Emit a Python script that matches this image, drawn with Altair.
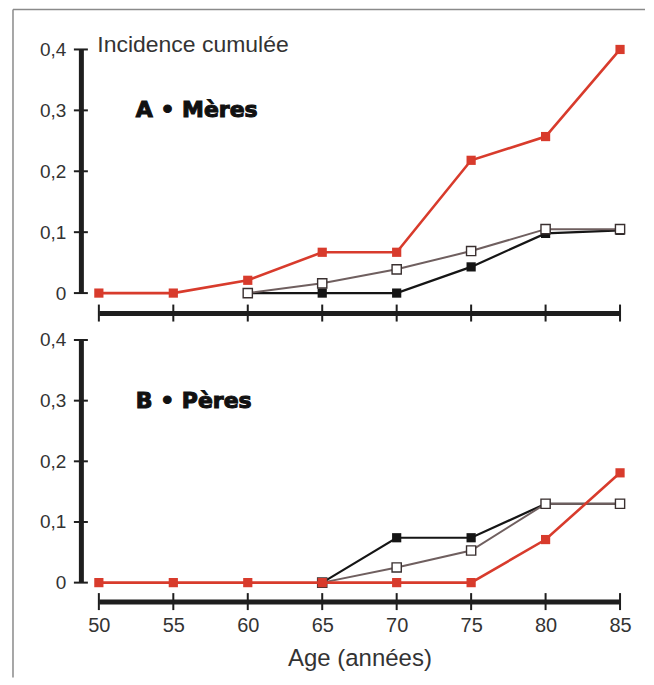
import altair as alt
import pandas as pd

# ---------------- data ----------------
ages = [50, 55, 60, 65, 70, 75, 80, 85]

# Panel A : Mères
a_rouge = [0.0, 0.0, 0.021, 0.067, 0.067, 0.218, 0.257, 0.400]
a_noir = [None, None, 0.0, 0.0, 0.0, 0.043, 0.098, 0.103]
a_blanc = [None, None, 0.0, 0.016, 0.039, 0.069, 0.105, 0.105]

# Panel B : Pères
b_rouge = [0.0, 0.0, 0.0, 0.0, 0.0, 0.0, 0.071, 0.181]
b_noir = [None, None, None, 0.0, 0.074, 0.074, 0.130, 0.130]
b_blanc = [None, None, None, 0.0, 0.025, 0.053, 0.130, 0.130]

y_ticks = [0.0, 0.1, 0.2, 0.3, 0.4]
panel_titles = ["A \u2022  M\u00e8res", "B \u2022  P\u00e8res"]
y_title = "Incidence cumul\u00e9e"
x_title = "Age (ann\u00e9es)"

RED = "#d83b2c"
BLACK = "#151515"
OPEN_LINE = "#6f5f5f"
AXIS = "#1e1e1e"
TXT = "#333333"
FONT = "Liberation Sans"

W = 522


def series_df(values):
    return pd.DataFrame(
        [{"age": a, "inc": v} for a, v in zip(ages, values) if v is not None]
    )


def build_panel(rouge, noir, blanc, label, height, first):
    label_expr = "datum.value == 0 ? '0' : replace(format(datum.value, '.1f'), '.', ',')"
    y_axis_kw = dict(
        values=y_ticks,
        labelExpr=label_expr,
        domainWidth=5,
        domainColor=AXIS,
        ticks=False,
        grid=False,
        labelFont=FONT,
        labelFontSize=19,
        labelColor=TXT,
        labelPadding=15,
        labelFlush=False,
        offset=18,
    )
    if first:
        y_axis = alt.Axis(
            title=y_title,
            titleAngle=0,
            titleAlign="left",
            titleBaseline="middle",
            titleX=16,
            titleY=-5,
            titleFont=FONT,
            titleFontSize=23,
            titleFontWeight="normal",
            titleColor=TXT,
            **y_axis_kw,
        )
        x_axis = alt.Axis(
            values=ages,
            labels=False,
            ticks=False,
            grid=False,
            domainWidth=5,
            domainColor=AXIS,
            offset=20,
            title=None,
        )
    else:
        y_axis = alt.Axis(title=None, **y_axis_kw)
        x_axis = alt.Axis(
            values=ages,
            ticks=False,
            grid=False,
            domainWidth=5,
            domainColor=AXIS,
            offset=19,
            labelFont=FONT,
            labelFontSize=20,
            labelColor=TXT,
            labelPadding=14,
            labelFlush=False,
            title=x_title,
            titleFont=FONT,
            titleFontSize=24,
            titleFontWeight="normal",
            titleColor=TXT,
            titlePadding=11,
        )

    X = alt.X("age:Q", scale=alt.Scale(domain=[50, 85], nice=False, zero=False), axis=x_axis)
    Y = alt.Y("inc:Q", scale=alt.Scale(domain=[0, 0.4], nice=False), axis=y_axis)

    layers = []
    # series: black, open, red (red on top)
    for vals, lcol, fill, stroke, lw in [
        (noir, BLACK, BLACK, BLACK, 2.2),
        (blanc, OPEN_LINE, "white", "#3a3030", 2.0),
        (rouge, RED, RED, RED, 2.6),
    ]:
        df = series_df(vals)
        base = alt.Chart(df)
        layers.append(base.mark_line(color=lcol, strokeWidth=lw).encode(x=X, y=Y))
        layers.append(
            base.mark_point(
                shape="square", size=85, filled=True, fill=fill, stroke=stroke,
                strokeWidth=1.4 if fill == "white" else 0, opacity=1,
            ).encode(x=X, y=Y)
        )

    # crossing tick marks on the y axis line
    yt = pd.DataFrame({"inc": y_ticks})
    layers.append(
        alt.Chart(yt).mark_tick(orient="horizontal", size=14, thickness=2, color=AXIS, opacity=1)
        .encode(y=Y, x=alt.value(-18))
    )
    # crossing tick marks on the x axis line
    xt = pd.DataFrame({"age": ages})
    x_off = 20 if first else 19
    layers.append(
        alt.Chart(xt).mark_tick(orient="vertical", size=17, thickness=2, color=AXIS, opacity=1)
        .encode(x=X, y=alt.value(height + x_off))
    )
    # panel label
    lab = pd.DataFrame({"t": [label]})
    layers.append(
        alt.Chart(lab).mark_text(
            align="left", baseline="middle", font="DejaVu Sans", fontWeight="bold",
            fontSize=22, color="#111111", stroke="#111111", strokeWidth=1.1,
        ).encode(text="t:N", x=alt.value(37), y=alt.value(61))
    )
    if first:
        # the thin grey frame (top and left edges only)
        layers.append(
            alt.Chart(lab).mark_rule(color="#8a8a8a", strokeWidth=1.5)
            .encode(x=alt.value(-86), x2=alt.value(547), y=alt.value(-40))
        )
        layers.append(
            alt.Chart(lab).mark_rule(color="#8a8a8a", strokeWidth=1.5)
            .encode(x=alt.value(-86), y=alt.value(-40), y2=alt.value(629))
        )
    return alt.layer(*layers).properties(width=W, height=height)


panel_a = build_panel(a_rouge, a_noir, a_blanc, panel_titles[0], 244, True)
panel_b = build_panel(b_rouge, b_noir, b_blanc, panel_titles[1], 243, False)

chart = (
    alt.vconcat(panel_a, panel_b, spacing=47, bounds="flush")
    .properties(padding={"left": 4, "top": 0, "right": 0, "bottom": 0}, background="white")
    .configure_view(stroke=None)
)

chart.save("out.html", embed_options={"renderer": "svg", "actions": False})
